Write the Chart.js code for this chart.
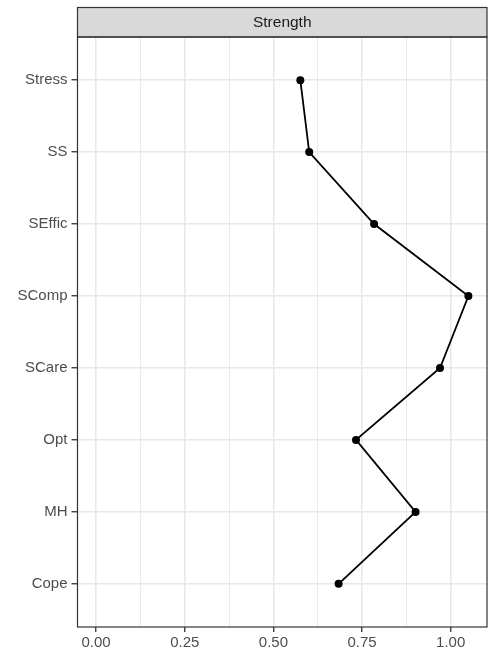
<!DOCTYPE html>
<html>
<head>
<meta charset="utf-8">
<script src="https://cdn.jsdelivr.net/npm/chart.js@4/dist/chart.umd.min.js"></script>
<style>
  html, body { margin: 0; padding: 0; background: #ffffff; }
  canvas { display: block; }
</style>
</head>
<body>
<canvas id="c" width="492" height="652"></canvas>
<script>
// Centrality measure shown in the facet strip
const facetTitle = 'Strength';
// Nodes, listed top to bottom
const categories = ['Stress', 'SS', 'SEffic', 'SComp', 'SCare', 'Opt', 'MH', 'Cope'];
// Strength value of each node
const strength = [0.576, 0.601, 0.784, 1.050, 0.970, 0.733, 0.901, 0.684];
// Major x ticks and the minor grid positions between them
const xMajorTicks = [0, 0.25, 0.5, 0.75, 1.0];
const xMinorTicks = [0.125, 0.375, 0.625, 0.875];

const FONT = '"Liberation Sans", Arial, Helvetica, sans-serif';
const isMajor = v => xMajorTicks.some(m => Math.abs(m - v) < 1e-9);

// Continuous axis padded 5% each side of [0, max]
const xLo = 0, xHi = Math.max(...strength);
const xPad = (xHi - xLo) * 0.05;

const stripPlugin = {
  id: 'facetStrip',
  afterDraw(chart) {
    const { ctx, chartArea: a } = chart;
    const stripH = 29.5;
    ctx.save();
    // strip
    ctx.fillStyle = '#d9d9d9';
    ctx.fillRect(a.left, a.top - stripH, a.right - a.left, stripH);
    ctx.strokeStyle = '#333333';
    ctx.lineWidth = 1.2;
    ctx.strokeRect(a.left, a.top - stripH, a.right - a.left, stripH);
    // panel border
    ctx.strokeRect(a.left, a.top, a.right - a.left, a.bottom - a.top);
    // strip text
    ctx.fillStyle = '#1a1a1a';
    ctx.font = '15.5px ' + FONT;
    ctx.textAlign = 'center';
    ctx.textBaseline = 'middle';
    ctx.fillText(facetTitle, (a.left + a.right) / 2, a.top - stripH / 2);
    ctx.restore();
  }
};

new Chart(document.getElementById('c'), {
  type: 'scatter',
  data: {
    datasets: [{
      data: strength.map((v, i) => ({ x: v, y: i })),
      showLine: true,
      borderColor: '#000000',
      borderWidth: 1.8,
      pointBackgroundColor: '#000000',
      pointBorderColor: '#000000',
      pointRadius: 4,
      pointBorderWidth: 0,
      tension: 0
    }]
  },
  options: {
    responsive: false,
    animation: false,
    layout: { padding: { top: 37, right: 5, left: 0, bottom: 0 } },
    plugins: { legend: { display: false }, tooltip: { enabled: false } },
    scales: {
      x: {
        type: 'linear',
        min: xLo - xPad,
        max: xHi + xPad,
        afterBuildTicks: s => {
          s.ticks = [...xMajorTicks, ...xMinorTicks].sort((a, b) => a - b).map(v => ({ value: v }));
        },
        afterFit: s => { s.height = 25; },
        border: { display: false },
        grid: {
          color: '#e8e8e8',
          lineWidth: c => (c.tick && isMajor(c.tick.value)) ? 1.5 : 0.9,
          tickColor: c => (c.tick && isMajor(c.tick.value)) ? '#333333' : 'rgba(0,0,0,0)',
          tickWidth: 1.3,
          tickLength: 5,
          drawTicks: true
        },
        ticks: {
          autoSkip: false,
          maxRotation: 0,
          padding: 2,
          color: '#4d4d4d',
          font: { family: FONT, size: 15 },
          callback: v => isMajor(v) ? v.toFixed(2) : ''
        }
      },
      y: {
        type: 'linear',
        reverse: true,
        min: -0.6,
        max: categories.length - 1 + 0.6,
        afterBuildTicks: s => {
          s.ticks = categories.map((_, i) => ({ value: i }));
        },
        afterFit: s => { s.width = 77.5; },
        border: { display: false },
        grid: {
          color: '#e8e8e8',
          lineWidth: 1.5,
          tickColor: '#333333',
          tickWidth: 1.3,
          tickLength: 6,
          drawTicks: true
        },
        ticks: {
          autoSkip: false,
          padding: 4,
          color: '#4d4d4d',
          font: { family: FONT, size: 15 },
          callback: v => categories[v]
        }
      }
    }
  },
  plugins: [stripPlugin]
});
</script>
</body>
</html>
